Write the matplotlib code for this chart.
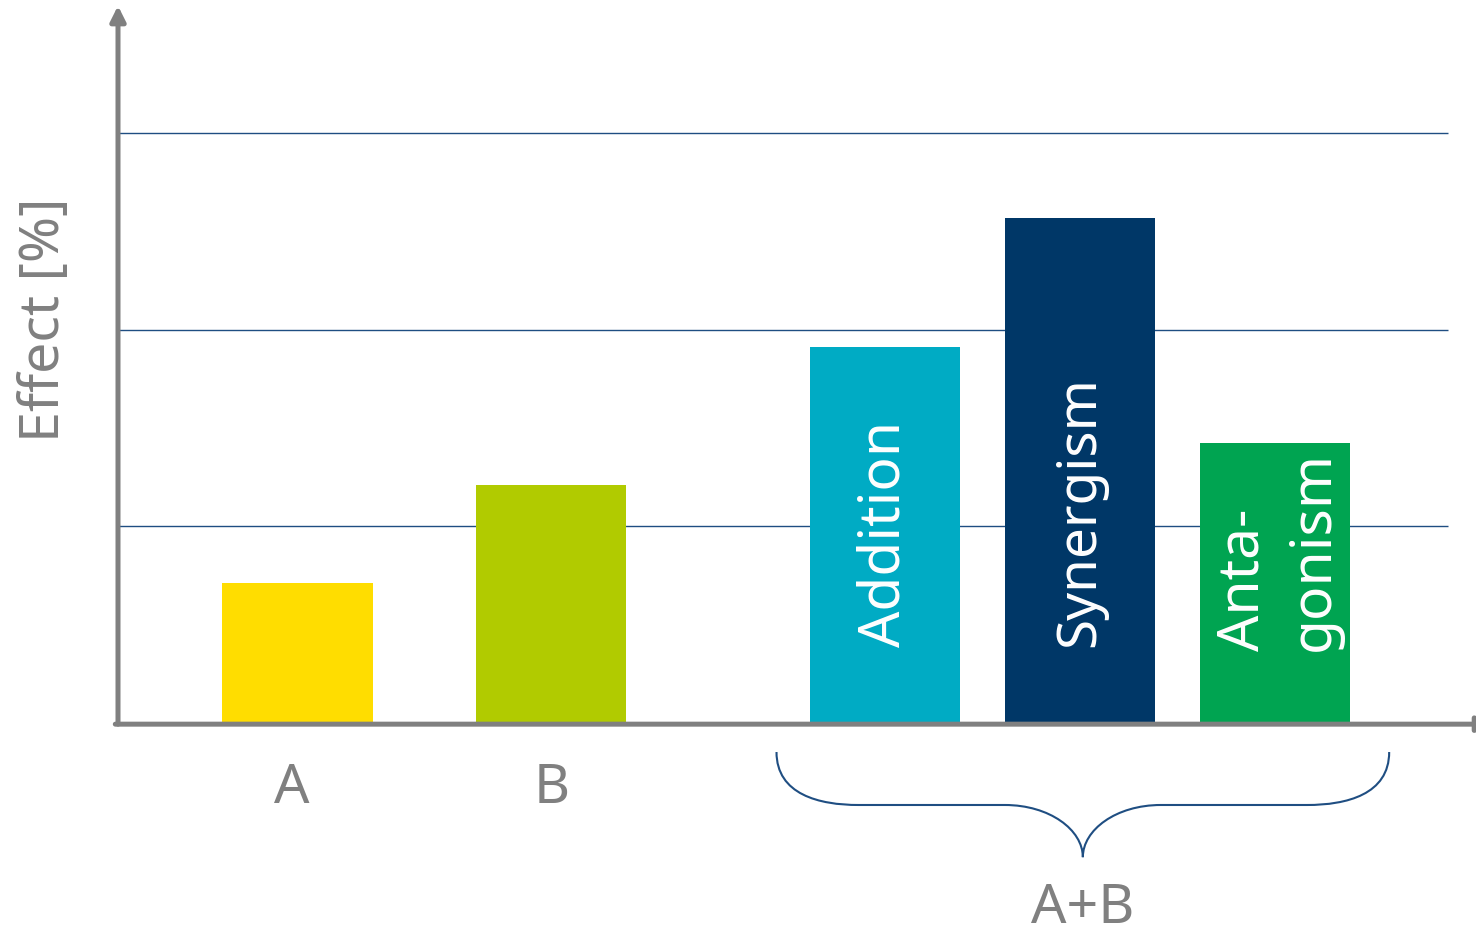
import numpy as np
import matplotlib.pyplot as plt
from matplotlib.path import Path
from matplotlib.patches import PathPatch

plt.rcParams['font.family'] = ['Noto Sans', 'DejaVu Sans']

# data
categories = ['A', 'B', 'Addition', 'Synergism', 'Anta-\ngonism']
values = [0.71, 1.21, 1.91, 2.57, 1.42]
colors = ['#FFDD00', '#B1CB00', '#00ABC4', '#003767', '#00A451']
gridlines = [1, 2, 3]
group_label = 'A+B'
y_label = 'Effect [%]'

# layout
positions = np.array([0, 1.30, 3.01, 4.01, 5.01])
bar_w = 0.77
grey = '#808080'
navy = '#1F4E82'

fig = plt.figure(figsize=(14.76, 9.33), dpi=100)
ax = fig.add_axes([118 / 1476, 211 / 933, 1358 / 1476, 722 / 933])
ax.set_xlim(-0.92, 6.04)
ax.set_ylim(0, 3.68)
ax.axis('off')

# grid lines
x_grid_end = -0.92 + (1447 - 118) / 195
ax.hlines(gridlines, -0.92, x_grid_end, color=navy, lw=1.0, zorder=1)

# bars
ax.bar(positions, values, width=bar_w, color=colors, zorder=2)

# labels inside the combination bars
for x, lab in zip(positions[2:], categories[2:]):
    ls = 1.3 if '\n' in lab else 1.0
    y0 = 0.36 if '\n' in lab else 0.38
    ax.text(x + (0.02 if '\n' in lab else 0), y0, lab, rotation=90,
            rotation_mode='anchor', ha='left', va='center', color='white',
            fontsize=41 if lab != 'Synergism' else 39.5, linespacing=ls, zorder=3)

# labels under single bars
for x, lab in zip(positions[:2], categories[:2]):
    ax.text(x - 0.03 + (0.035 if lab == 'B' else 0), -0.34, lab, ha='center',
            va='center', color=grey, fontsize=40)

# y axis arrow
ax.annotate('', xy=(0, 0.992), xytext=(0, -0.003), xycoords='axes fraction',
            arrowprops=dict(arrowstyle='-|>,head_length=0.9,head_width=0.45',
                            color=grey, lw=3.6, shrinkA=0, shrinkB=0),
            annotation_clip=False)
# x axis arrow (head runs off the edge)
ax.annotate('', xy=(1.012, -0.003), xytext=(-0.002, -0.003), xycoords='axes fraction',
            arrowprops=dict(arrowstyle='-|>,head_length=0.9,head_width=0.45',
                            color=grey, lw=3.6, shrinkA=0, shrinkB=0),
            annotation_clip=False)

ax.text(-0.92 - 73 / 195, 2.05, y_label, rotation=90, ha='center', va='center',
        color=grey, fontsize=40, clip_on=False)

# brace under the combination bars
left = positions[2] - bar_w / 2 - 0.17
right = positions[4] + bar_w / 2 + 0.2
mid = (left + right) / 2
top, flat, tip = -0.153, -0.423, -0.689
verts = [
    (left, top), (left, -0.37), (left + 0.22, flat), (left + 0.42, flat),
    (mid - 0.40, flat),
    (mid - 0.17, flat), (mid, -0.55), (mid, tip),
    (mid, -0.55), (mid + 0.17, flat), (mid + 0.40, flat),
    (right - 0.42, flat),
    (right - 0.22, flat), (right, -0.37), (right, top),
]
codes = [Path.MOVETO, Path.CURVE4, Path.CURVE4, Path.CURVE4,
         Path.LINETO,
         Path.CURVE4, Path.CURVE4, Path.CURVE4,
         Path.CURVE4, Path.CURVE4, Path.CURVE4,
         Path.LINETO,
         Path.CURVE4, Path.CURVE4, Path.CURVE4]
ax.add_patch(PathPatch(Path(verts, codes), fc='none', ec=navy, lw=1.5, clip_on=False))

ax.text(mid, -0.95, group_label, ha='center', va='center', color=grey, fontsize=40)

fig.savefig('out.png', dpi=100)
